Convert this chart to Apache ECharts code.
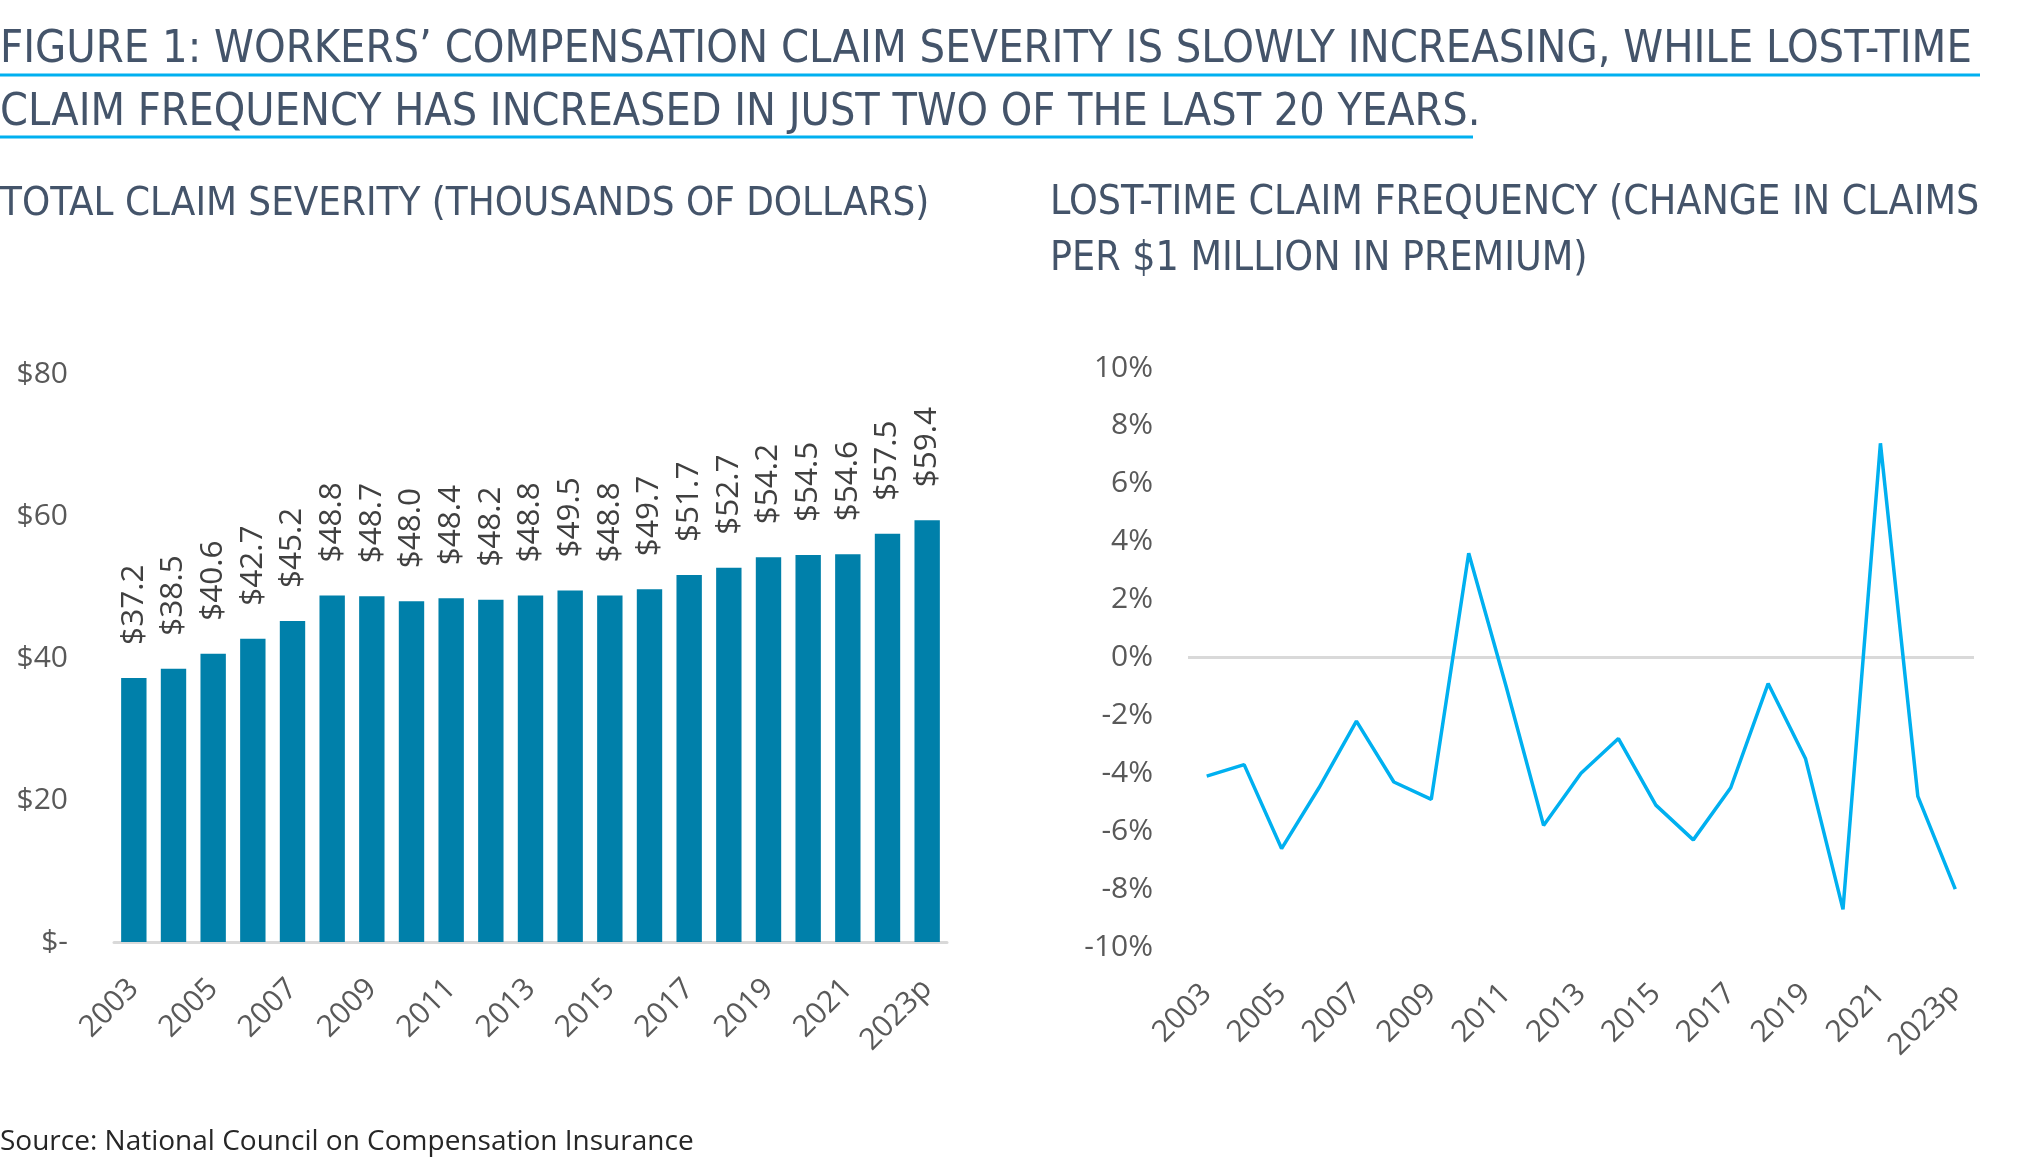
<!DOCTYPE html>
<html>
<head>
<meta charset="utf-8">
<script src="https://cdn.jsdelivr.net/npm/echarts@6/dist/echarts.min.js"></script>
<style>
html,body{margin:0;padding:0;background:#fff;}
#c{width:2025px;height:1171px;}
</style>
</head>
<body>
<div id="c"></div>
<script>
// ---- data ----
const years = ['2003','2004','2005','2006','2007','2008','2009','2010','2011','2012','2013','2014','2015','2016','2017','2018','2019','2020','2021','2022','2023p'];
const severity = [37.2,38.5,40.6,42.7,45.2,48.8,48.7,48.0,48.4,48.2,48.8,49.5,48.8,49.7,51.7,52.7,54.2,54.5,54.6,57.5,59.4];
const frequency = [-4.1,-3.7,-6.6,-4.5,-2.2,-4.3,-4.9,3.6,-1.0,-5.8,-4.0,-2.8,-5.1,-6.3,-4.5,-0.9,-3.5,-8.7,7.4,-4.8,-8.0];
const severityTicks = {min:0, max:80, interval:20};
const frequencyTicks = {min:-10, max:10, interval:2};
const titleLines = ['FIGURE 1: WORKERS\u2019 COMPENSATION CLAIM SEVERITY IS SLOWLY INCREASING, WHILE LOST-TIME','CLAIM FREQUENCY HAS INCREASED IN JUST TWO OF THE LAST 20 YEARS.'];
const leftSubtitle = 'TOTAL CLAIM SEVERITY (THOUSANDS OF DOLLARS)';
const rightSubtitle = ['LOST-TIME CLAIM FREQUENCY (CHANGE IN CLAIMS','PER $1 MILLION IN PREMIUM)'];
const sourceText = 'Source: National Council on Compensation Insurance';

// ---- style ----
const condFont = '"Liberation Sans Narrow","DejaVu Sans Condensed","Roboto",sans-serif';
const bodyFont = '"Open Sans","Noto Sans",sans-serif';
const textCol = '#44546A';
const axisCol = '#595959';
const accent = '#00B0F0';

const chart = echarts.init(document.getElementById('c'), null, {renderer:'canvas'});

const axisLabelBase = {fontFamily: bodyFont, fontSize: 30, color: axisCol};

chart.setOption({
  animation: false,
  backgroundColor: '#fff',
  graphic: [
    {type:'text', style:{text:titleLines[0], x:0, y:50, font:'44.8px '+condFont, fill:textCol, verticalAlign:'middle'}},
    {type:'line', shape:{x1:0,y1:75,x2:1980,y2:75}, style:{stroke:accent, lineWidth:3}},
    {type:'text', style:{text:titleLines[1], x:0, y:113, font:'44.5px '+condFont, fill:textCol, verticalAlign:'middle'}},
    {type:'line', shape:{x1:0,y1:137,x2:1473,y2:137}, style:{stroke:accent, lineWidth:3}},
    {type:'text', style:{text:leftSubtitle, x:0, y:205, font:'39.9px '+condFont, fill:textCol, verticalAlign:'middle'}},
    {type:'text', style:{text:rightSubtitle[0], x:1050, y:203, font:'40.7px '+condFont, fill:textCol, verticalAlign:'middle'}},
    {type:'text', style:{text:rightSubtitle[1], x:1050, y:259, font:'40.7px '+condFont, fill:textCol, verticalAlign:'middle'}},
    {type:'text', style:{text:sourceText, x:0, y:1142, font:'28px '+bodyFont, fill:'#262626', verticalAlign:'middle'}}
  ],
  grid: [
    {left:114, right:1078, top:374, bottom:229, containLabel:false},
    {left:1188, right:51, top:368, bottom:224, containLabel:false}
  ],
  xAxis: [
    {gridIndex:0, type:'category', data:years, boundaryGap:true,
     axisLine:{show:true, lineStyle:{color:'#D9D9D9', width:3}},
     axisTick:{show:false},
     axisLabel:Object.assign({interval:1, rotate:45, margin:42}, axisLabelBase)},
    {gridIndex:1, type:'category', data:years, boundaryGap:true,
     axisLine:{show:false, onZero:false},
     axisTick:{show:false},
     axisLabel:Object.assign({interval:1, rotate:45, margin:42}, axisLabelBase)}
  ],
  yAxis: [
    {gridIndex:0, type:'value', min:severityTicks.min, max:severityTicks.max, interval:severityTicks.interval,
     axisLine:{show:false}, axisTick:{show:false}, splitLine:{show:false},
     axisLabel:Object.assign({margin:46, formatter:v => v === 0 ? '$-' : '$' + v}, axisLabelBase)},
    {gridIndex:1, type:'value', min:frequencyTicks.min, max:frequencyTicks.max, interval:frequencyTicks.interval,
     axisLine:{show:false}, axisTick:{show:false}, splitLine:{show:false},
     axisLabel:Object.assign({margin:35, formatter:v => v + '%'}, axisLabelBase)}
  ],
  series: [
    {type:'bar', xAxisIndex:0, yAxisIndex:0, data:severity, barCategoryGap:'36%',
     itemStyle:{color:'#0080AA'},
     label:{show:true, position:'top', rotate:90, align:'left', verticalAlign:'middle', distance:33,
            fontFamily:bodyFont, fontSize:31.5, color:'#404040',
            formatter:p => '$' + p.value.toFixed(1)}},
    {type:'line', xAxisIndex:1, yAxisIndex:1, data:frequency, symbol:'none',
     lineStyle:{color:accent, width:3.5},
     markLine:{silent:true, symbol:['none','none'], label:{show:false},
               lineStyle:{color:'#D9D9D9', width:3, type:'solid'},
               data:[{yAxis:0}], z:1},
     z:3}
  ]
});
</script>
</body>
</html>
